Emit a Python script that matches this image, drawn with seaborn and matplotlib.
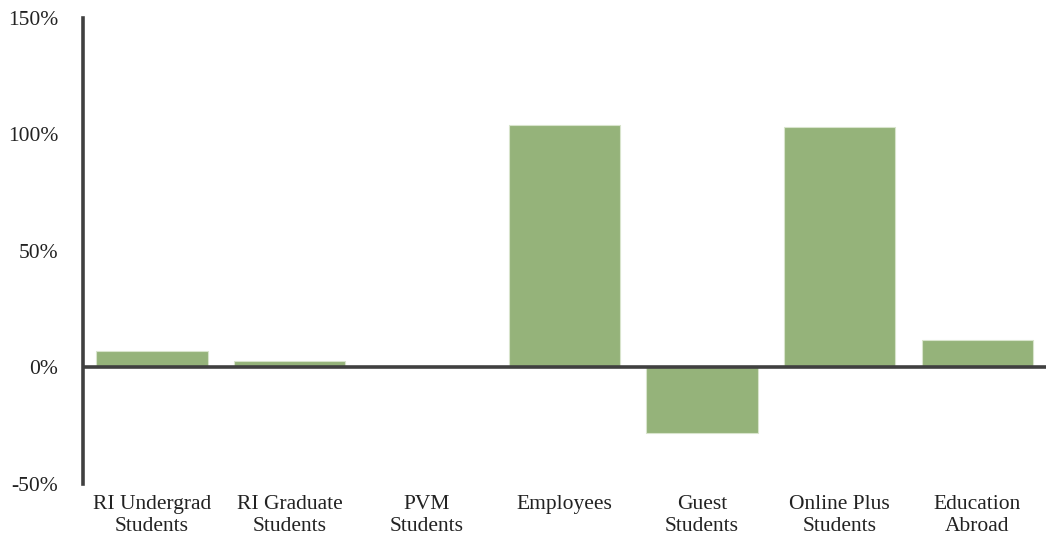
import matplotlib
matplotlib.use('Agg')
import matplotlib.pyplot as plt
import seaborn as sns
import pandas
from matplotlib.ticker import FuncFormatter

categories = ['RI Undergrad\nStudents', 'RI Graduate\nStudents', 'PVM\nStudents', 'Employees',
              'Guest\nStudents', 'Online Plus\nStudents', 'Education\nAbroad']
changes = [7, 3, 0.8, 104, -28, 103, 12]

sns.set_style('white')
plt.rcParams['font.family'] = ['Liberation Serif', 'DejaVu Serif']

df = pandas.DataFrame({'group': categories, 'change': changes})

fig = plt.figure(figsize=(10.46, 5.4), dpi=100)
ax = fig.add_axes([0.0794, 0.1037, 0.9206, 0.863])
sns.barplot(df, x='group', y='change', color='#95B37A', saturation=1, width=0.81,
            edgecolor='#d8e4cc', linewidth=0.8, ax=ax)

ax.set_ylim(-50, 150)
ax.set_yticks([-50, 0, 50, 100, 150])
ax.yaxis.set_major_formatter(FuncFormatter(lambda v, p: f'{v:.0f}%'))
ax.set_xlabel('')
ax.set_ylabel('')
ax.axhline(0, color='#404040', linewidth=2.6, zorder=3)
for s in ['top', 'right', 'bottom']:
    ax.spines[s].set_visible(False)
ax.spines['left'].set_color('#404040')
ax.spines['left'].set_linewidth(2.6)
ax.tick_params(axis='both', length=0, labelsize=15.5, colors='#222222')
ax.tick_params(axis='y', pad=18)
ax.tick_params(axis='x', pad=8)
for lbl in ax.get_xticklabels():
    lbl.set_linespacing(1.2)
ax.set_xlim(-0.5, 6.5)

fig.savefig('out.png', dpi=100)
